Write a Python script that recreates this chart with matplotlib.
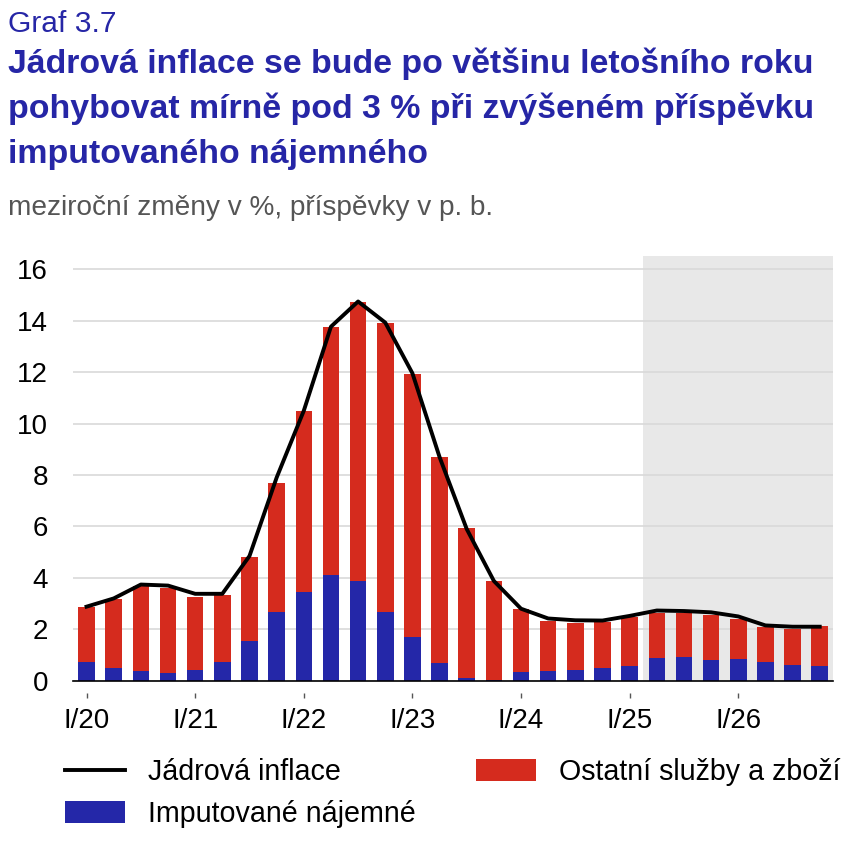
import matplotlib
matplotlib.use("Agg")
import matplotlib.pyplot as plt
from matplotlib.lines import Line2D
from matplotlib.patches import Patch
import numpy as np

plt.rcParams['font.family'] = ['Liberation Sans', 'DejaVu Sans']

quarters = ["I/20", "II/20", "III/20", "IV/20", "I/21", "II/21", "III/21", "IV/21",
            "I/22", "II/22", "III/22", "IV/22", "I/23", "II/23", "III/23", "IV/23",
            "I/24", "II/24", "III/24", "IV/24", "I/25", "II/25", "III/25", "IV/25",
            "I/26", "II/26", "III/26", "IV/26"]
imputed_rent = [0.72, 0.51, 0.38, 0.30, 0.43, 0.72, 1.54, 2.67, 3.44, 4.12, 3.89, 2.68,
                1.71, 0.69, 0.10, 0.04, 0.34, 0.38, 0.43, 0.51, 0.58, 0.89, 0.91, 0.80,
                0.86, 0.73, 0.61, 0.57]
total_bar = [2.88, 3.17, 3.68, 3.59, 3.26, 3.35, 4.81, 7.69, 10.49, 13.77, 14.72, 13.91,
             11.94, 8.70, 5.95, 3.88, 2.79, 2.32, 2.24, 2.27, 2.48, 2.64, 2.62, 2.57,
             2.40, 2.09, 2.01, 2.13]
other = [round(t - r, 2) for t, r in zip(total_bar, imputed_rent)]
core_inflation = [2.88, 3.20, 3.74, 3.70, 3.38, 3.38, 4.85, 7.9, 10.5, 13.77, 14.75, 13.93,
                  11.96, 8.7, 5.9, 3.88, 2.80, 2.42, 2.35, 2.34, 2.52, 2.73, 2.71, 2.66,
                  2.50, 2.15, 2.10, 2.10]
tick_labels = ["I/20", "I/21", "I/22", "I/23", "I/24", "I/25", "I/26"]
forecast_start = "II/25"

BLUE = "#2427A8"
RED = "#D52B1E"
TITLE = "#2626A6"

fig = plt.figure(figsize=(8.48, 8.49), dpi=100)
ax = fig.add_axes([72.7/848, 1-680.7/849, (833.3-72.7)/848, (680.7-256)/849])

x = np.arange(len(quarters))
fs = quarters.index(forecast_start)
ax.axvspan(fs - 0.5, len(quarters) - 0.5, color="#E8E8E8", zorder=0, lw=0)

w = 0.61
ax.bar(x, imputed_rent, width=w, color=BLUE, zorder=2, lw=0)
ax.bar(x, other, width=w, bottom=imputed_rent, color=RED, zorder=2, lw=0)
ax.plot(x, core_inflation, color="black", lw=2.8, zorder=3, solid_joinstyle="round")

ax.set_xlim(-0.51, len(quarters) - 0.5)
ax.set_ylim(0, 16.52)
ax.set_yticks(np.arange(0, 17, 2))
ax.yaxis.grid(True, color="#D9D9D9", lw=1.2, zorder=1)
ax.set_axisbelow(True)
for s in ["top", "right", "left"]:
    ax.spines[s].set_visible(False)
ax.spines["bottom"].set_color("black")
ax.spines["bottom"].set_linewidth(1.2)
ax.spines["bottom"].set_zorder(4)

tick_pos = [quarters.index(t) for t in tick_labels]
ax.set_xticks(tick_pos)
ax.set_xticklabels(tick_labels)
ax.tick_params(axis="x", length=0, pad=20, labelsize=20)
ax.tick_params(axis="y", length=0, pad=17.8, labelsize=20)
for lab in ax.get_yticklabels():
    lab.set_horizontalalignment("right")
ax.vlines(tick_pos, -0.48, -0.66, colors="#555555", lw=1, clip_on=False)

fig.text(8/848, 1-32/849, "Graf 3.7", color=TITLE, fontsize=21.6, va="baseline", ha="left")
title_lines = ["Jádrová inflace se bude po většinu letošního roku",
               "pohybovat mírně pod 3 % při zvýšeném příspěvku",
               "imputovaného nájemného"]
for i, t in enumerate(title_lines):
    fig.text(8/848, 1-(73+45*i)/849, t, color=TITLE, fontsize=24.4, fontweight="bold",
             va="baseline", ha="left")
fig.text(8/848, 1-215/849, "meziroční změny v %, příspěvky v p. b.", color="#555555",
         fontsize=20.2, va="baseline", ha="left")

handles = [Line2D([0], [0], color="black", lw=2.8),
           Patch(facecolor=BLUE, lw=0),
           Patch(facecolor=RED, lw=0)]
labels = ["Jádrová inflace", "Imputované nájemné", "Ostatní služby a zboží"]
fig.legend(handles, labels, ncol=2, loc="upper left", bbox_to_anchor=(65/848, 1-758/849),
           frameon=False, fontsize=20.6, handlelength=2.1, handleheight=0.8,
           handletextpad=0.8, columnspacing=2.1, labelspacing=0.5, borderpad=0,
           borderaxespad=0)

fig.savefig("out.png", dpi=100)
